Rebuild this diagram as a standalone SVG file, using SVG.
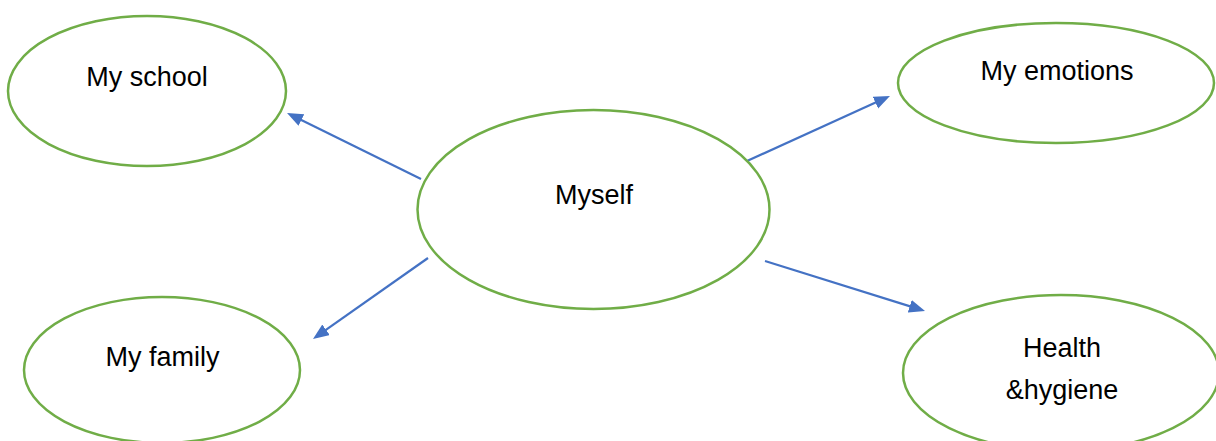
<svg xmlns="http://www.w3.org/2000/svg" width="1216" height="441" viewBox="0 0 1216 441">
  <style>
    .node { fill: #FFFFFF; stroke: #70AD47; stroke-width: 2.5; }
    .label { font-family: "Liberation Sans", Arial, sans-serif; font-size: 27px; fill: #000000; text-anchor: middle; }
    .conn { stroke: #4472C4; stroke-width: 2.2; fill: none; marker-end: url(#arrow); }
  </style>
  <defs>
    <marker id="arrow" markerUnits="userSpaceOnUse" markerWidth="17" markerHeight="14" refX="8" refY="6.5" orient="auto">
      <path d="M0,0 L16,6.5 L0,13 z" fill="#4472C4"/>
    </marker>
  </defs>
  <rect width="1216" height="441" fill="#FFFFFF"/>
  <g id="connectors">
    <line class="conn" x1="421" y1="179" x2="294.2" y2="116.5"/>
    <line class="conn" x1="747" y1="161" x2="882.7" y2="99.3"/>
    <line class="conn" x1="428" y1="258" x2="319.5" y2="334.4"/>
    <line class="conn" x1="765" y1="261" x2="917.4" y2="308.6"/>
  </g>
  <g id="node-school">
    <ellipse class="node" cx="147" cy="91" rx="139" ry="75"/>
    <text class="label" x="147" y="86">My school</text>
  </g>
  <g id="node-emotions">
    <ellipse class="node" cx="1056" cy="83" rx="158" ry="60"/>
    <text class="label" x="1057" y="80">My emotions</text>
  </g>
  <g id="node-myself">
    <ellipse class="node" cx="593.5" cy="209.5" rx="176" ry="99.5"/>
    <text class="label" x="594" y="204">Myself</text>
  </g>
  <g id="node-family">
    <ellipse class="node" cx="162" cy="370" rx="138" ry="73"/>
    <text class="label" x="162.5" y="366">My family</text>
  </g>
  <g id="node-health">
    <ellipse class="node" cx="1061" cy="373" rx="158" ry="78"/>
    <text class="label" x="1062" y="357">Health</text>
    <text class="label" x="1062" y="399">&amp;hygiene</text>
  </g>
</svg>
